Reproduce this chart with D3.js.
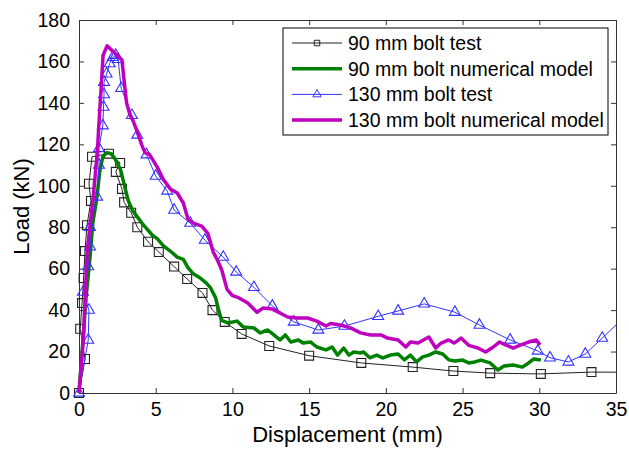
<!DOCTYPE html>
<html>
<head>
<meta charset="utf-8">
<script src="https://cdn.jsdelivr.net/npm/d3@7"></script>
<style>
  body { margin: 0; background: #fff; }
  text { font-family: "Liberation Sans", Arial, sans-serif; fill: #000; }
</style>
</head>
<body>
<svg id="chart" width="629" height="449"></svg>
<script>
// 90 mm bolt test (squares)
const disp90Test = [0, 0.39, 0.08, 0.2, 0.3, 0.39, 0.52, 0.78, 0.65, 0.85, 1.95, 2.68, 2.4, 2.8, 2.94, 3.4, 3.8, 4.5, 5.2, 6.2, 7.05, 8.05, 8.7, 9.5, 10.6, 12.4, 15.0, 18.4, 21.75, 24.4, 26.8, 30.1, 33.4, 36.7];
const load90Test = [0, 16.4, 31, 43.4, 55.5, 68.5, 81, 92.7, 101, 114, 115.5, 111, 106.7, 98.5, 92, 87, 80, 73, 68, 61, 55, 48.3, 40, 34.3, 28.5, 22.7, 18, 14.5, 12.5, 10.6, 9.6, 9.2, 10.1, 10];

// 90 mm bolt numerical model
const disp90Model = [0, 0.26, 0.46, 0.72, 0.9, 1.18, 1.35, 1.55, 1.8, 2.1, 2.35, 2.7, 2.9, 3.2, 3.5, 3.8, 4.1, 4.45, 4.8, 5.1, 5.5, 5.95, 6.4, 6.8, 7.1, 7.45, 7.9, 8.3, 8.55, 8.9, 9.1, 9.3, 9.7, 10.3, 10.7, 11.4, 11.8, 12.3, 12.7, 13.1, 13.45, 13.8, 14.3, 14.6, 15.1, 15.5, 16.1, 16.5, 16.85, 17.25, 17.6, 17.9, 18.35, 18.55, 18.95, 19.4, 19.8, 20.3, 20.8, 21.2, 21.6, 22.0, 22.4, 22.8, 23.25, 23.7, 24.1, 24.5, 25.0, 25.4, 25.8, 26.2, 26.8, 27.3, 27.7, 28.3, 28.9, 29.3, 29.65, 30.1];
const load90Model = [0, 25.6, 46, 65.6, 82, 95, 107, 114, 116, 115.5, 113, 108, 102, 93, 88, 85, 82, 79, 76, 74.5, 71, 68.5, 65.6, 64.5, 60.5, 57.5, 55.5, 53, 51, 46, 40, 35, 33.8, 34.7, 31.9, 31.4, 29, 30.4, 28, 25.6, 28, 24.6, 25.6, 24.1, 24.6, 22.2, 20.8, 22.2, 18.3, 21.7, 18.3, 19.8, 19.3, 19.8, 17, 18.3, 16.9, 18.3, 18.8, 16, 18.3, 15, 17.4, 18.3, 19.8, 18.8, 16, 15.4, 15.9, 14.5, 15, 15.9, 14.5, 11.1, 13, 13.5, 12.5, 14.5, 16.4, 15.9];

// 130 mm bolt test (triangles)
const disp130Test = [0, 0.6, 0.65, 0.26, 0.6, 0.72, 0.72, 1.18, 1.3, 1.3, 1.55, 1.6, 1.63, 1.63, 1.8, 2.0, 2.2, 2.4, 2.55, 2.75, 3.45, 3.8, 4.4, 5.0, 5.75, 6.2, 7.25, 8.2, 9.4, 10.25, 11.4, 12.6, 14.0, 15.6, 17.3, 19.5, 20.8, 22.5, 24.5, 26.1, 28.1, 29.9, 30.7, 31.9, 33.0, 34.1, 35.6];
const load130Test = [0, 25.5, 40, 48.7, 61, 70.5, 80, 94.6, 110, 118, 129, 138, 144, 150, 154, 159, 162, 163, 161, 147, 134, 124.5, 115, 104.7, 97.5, 88.3, 82, 73.8, 65.6, 58.4, 51, 42, 34.3, 30.4, 32.3, 37, 39.6, 43, 39, 32.8, 25.6, 20.3, 17, 15, 18.8, 26.5, 37];

// 130 mm bolt numerical model
const disp130Model = [0, 0.28, 0.54, 0.93, 1.2, 1.3, 1.45, 1.57, 1.83, 2.2, 2.48, 2.8, 2.95, 3.1, 3.33, 3.5, 3.8, 4.1, 4.3, 4.6, 5.1, 5.5, 5.95, 6.4, 6.8, 7.1, 7.45, 8.0, 8.4, 8.75, 9.0, 9.3, 9.65, 10.0, 10.4, 11.0, 11.6, 12.0, 12.6, 13.1, 13.6, 14.2, 14.9, 15.5, 16.1, 16.4, 17.05, 17.7, 18.35, 19.0, 19.7, 20.1, 20.8, 21.3, 21.6, 22.1, 22.8, 23.25, 23.6, 24.1, 24.45, 24.9, 25.4, 26.0, 26.5, 27.0, 27.4, 27.8, 28.3, 28.8, 29.3, 29.8, 30.05];
const load130Model = [0, 25.6, 69, 94.6, 117, 130, 148, 163, 167.5, 165, 163, 160.7, 150, 140, 134, 131.8, 126, 119.5, 116, 115, 109, 103, 98.5, 96.5, 91.7, 84, 82, 80.5, 77, 68, 64.5, 59.5, 50, 47, 46, 43.4, 39, 41, 40.5, 38.6, 36.7, 36.2, 36.2, 34.7, 32.3, 33.5, 32.8, 31.4, 29, 28, 28, 26.5, 25.6, 22.2, 24.6, 24.1, 27, 21.7, 24.1, 25.6, 24.1, 26.5, 23, 21.7, 19.8, 22.2, 24.6, 23.2, 21.7, 23.2, 24.6, 25.6, 23.2];

const xTicks = [0, 5, 10, 15, 20, 25, 30, 35];
const yTicks = [0, 20, 40, 60, 80, 100, 120, 140, 160, 180];
const seriesNames = ["90 mm bolt test", "90 mm bolt numerical model", "130 mm bolt test", "130 mm bolt numerical model"];

const svg = d3.select("#chart");
const mLeft = 79, mTop = 20, mRight = 616, mBottom = 393;

const x = d3.scaleLinear().domain([0, 35]).range([mLeft, mRight]);
const y = d3.scaleLinear().domain([0, 180]).range([mBottom, mTop]);

svg.append("defs").append("clipPath").attr("id", "clip")
  .append("rect").attr("x", mLeft - 6).attr("y", mTop).attr("width", mRight - mLeft + 6).attr("height", mBottom - mTop + 6);

// axes box with inward ticks on all sides
const tickLen = 5;
svg.append("g").attr("transform", `translate(0,${mBottom})`)
  .call(d3.axisBottom(x).tickValues(xTicks).tickSizeInner(-tickLen).tickSizeOuter(0).tickPadding(8))
  .call(g => g.selectAll("text").attr("font-size", 19.5).attr("dy", "0.75em"));
svg.append("g").attr("transform", `translate(0,${mTop})`)
  .call(d3.axisTop(x).tickValues(xTicks).tickSizeInner(-tickLen).tickSizeOuter(0).tickFormat(""));
svg.append("g").attr("transform", `translate(${mLeft},0)`)
  .call(d3.axisLeft(y).tickValues(yTicks).tickSizeInner(-tickLen).tickSizeOuter(0).tickPadding(9))
  .call(g => g.selectAll("text").attr("font-size", 19.5));
svg.append("g").attr("transform", `translate(${mRight},0)`)
  .call(d3.axisRight(y).tickValues(yTicks).tickSizeInner(-tickLen).tickSizeOuter(0).tickFormat(""));
svg.selectAll(".domain, .tick line").attr("stroke", "#333").attr("stroke-width", 1);
svg.selectAll(".tick text").attr("fill", "#000").attr("font-family", "Liberation Sans, Arial, sans-serif");

// axis titles
svg.append("text").attr("x", (mLeft + mRight) / 2).attr("y", 442)
  .attr("text-anchor", "middle").attr("font-size", 22).text("Displacement (mm)");
svg.append("text").attr("transform", `translate(29,${(mTop + mBottom) / 2}) rotate(-90)`)
  .attr("text-anchor", "middle").attr("font-size", 22).text("Load (kN)");

const line = d3.line().x(d => x(d[0])).y(d => y(d[1]));
const plot = svg.append("g").attr("clip-path", "url(#clip)");

const square = d3.symbol().type(d3.symbolSquare).size(80);
const triangle = d3.symbol().type(d3.symbolTriangle).size(52);

function addSeries(xs, ys, color, width, sym) {
  const pts = xs.map((v, i) => [v, ys[i]]);
  plot.append("path").datum(pts).attr("d", line)
    .attr("fill", "none").attr("stroke", color).attr("stroke-width", width)
    .attr("stroke-linejoin", "round");
  if (sym) {
    plot.selectAll(null).data(pts).enter().append("path")
      .attr("d", sym).attr("transform", d => `translate(${x(d[0])},${y(d[1])})`)
      .attr("fill", "none").attr("stroke", color).attr("stroke-width", 1.1);
  }
}

const colors = ["#222", "#008000", "#3333ff", "#bf00bf"];
const widths = [1, 3.5, 1, 3.5];
addSeries(disp90Test, load90Test, colors[0], widths[0], square);
addSeries(disp90Model, load90Model, colors[1], widths[1], null);
addSeries(disp130Test, load130Test, colors[2], widths[2], triangle);
addSeries(disp130Model, load130Model, colors[3], widths[3], null);

// legend
const leg = svg.append("g");
leg.append("rect").attr("x", 283).attr("y", 28).attr("width", 325).attr("height", 107)
  .attr("fill", "#fff").attr("stroke", "#000").attr("stroke-width", 1);
const legSyms = [d3.symbol().type(d3.symbolSquare).size(30), null, d3.symbol().type(d3.symbolTriangle).size(30), null];
seriesNames.forEach((name, i) => {
  const ly = 43 + i * 25.7;
  leg.append("line").attr("x1", 292).attr("x2", 342).attr("y1", ly).attr("y2", ly)
    .attr("stroke", colors[i]).attr("stroke-width", widths[i]);
  if (legSyms[i]) {
    leg.append("path").attr("d", legSyms[i]).attr("transform", `translate(317,${ly})`)
      .attr("fill", "none").attr("stroke", colors[i]).attr("stroke-width", 1);
  }
  leg.append("text").attr("x", 348).attr("y", ly).attr("dy", "0.36em")
    .attr("font-size", 19.5).text(name);
});
</script>
</body>
</html>
